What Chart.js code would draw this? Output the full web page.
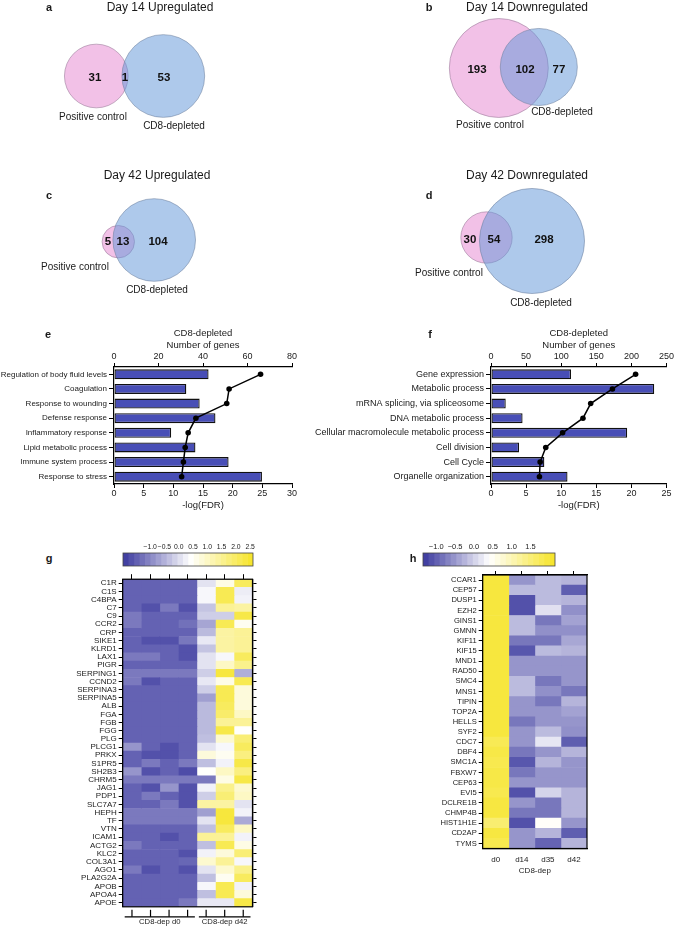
<!DOCTYPE html>
<html><head><meta charset="utf-8">
<script src="https://cdn.jsdelivr.net/npm/chart.js@4.4.1/dist/chart.umd.min.js"></script>
<style>
html,body{margin:0;padding:0;background:#fff}
body{width:675px;height:926px;position:relative;overflow:hidden;font-family:'Liberation Sans',Arial,Helvetica,sans-serif;color:#1a1a1a}
canvas{position:absolute}
.t{position:absolute;white-space:nowrap;transform:translate(-50%,-50%);line-height:1}
</style></head><body>
<canvas id="venn" width="675" height="315" style="left:0px;top:0px"></canvas>
<canvas id="chartE" width="305" height="186" style="left:0px;top:326px"></canvas>
<canvas id="chartF" width="375" height="186" style="left:300px;top:326px"></canvas>
<canvas id="cbG" width="170" height="30" style="left:100px;top:538px"></canvas>
<canvas id="heatG" width="270" height="356" style="left:0px;top:570px"></canvas>
<canvas id="cbH" width="175" height="30" style="left:400px;top:538px"></canvas>
<canvas id="heatH" width="230" height="314" style="left:380px;top:566px"></canvas>
<script>
// ---------------- DATA ----------------
const vennTitles = ['Day 14 Upregulated','Day 14 Downregulated','Day 42 Upregulated','Day 42 Downregulated'];
const vennLetters = ['a','b','c','d'];
const vennSetNames = ['Positive control','CD8-depleted'];
const vennPositiveOnly = [31, 193, 5, 30];
const vennShared = [1, 102, 13, 54];
const vennCD8Only = [53, 77, 104, 298];

const eTerms = ['Regulation of body fluid levels','Coagulation','Response to wounding','Defense response','Inflammatory response','Lipid metabolic process','Immune system process','Response to stress'];
const eGenes = [42.5, 32.5, 38.5, 45.6, 25.7, 36.6, 51.5, 66.5];
const eLogFDR = [24.7, 19.4, 19.0, 13.8, 12.5, 12.0, 11.7, 11.4];

const fTerms = ['Gene expression','Metabolic process','mRNA splicing, via spliceosome','DNA metabolic process','Cellular macromolecule metabolic process','Cell division','Cell Cycle','Organelle organization'];
const fGenes = [114, 232.5, 21, 45, 194, 40, 76, 109];
const fLogFDR = [20.6, 17.3, 14.2, 13.1, 10.2, 7.8, 7.0, 6.9];

const gGenes = ['C1R','C1S','C4BPA','C7','C9','CCR2','CRP','SIKE1','KLRD1','LAX1','PIGR','SERPING1','CCND2','SERPINA3','SERPINA5','ALB','FGA','FGB','FGG','PLG','PLCG1','PRKX','S1PR5','SH2B3','CHRM5','JAG1','PDP1','SLC7A7','HEPH','TF','VTN','ICAM1','ACTG2','KLC2','COL3A1','AGO1','PLA2G2A','APOB','APOA4','APOE'];
const gGroups = ['CD8-dep d0','CD8-dep d42'];
const gGroupSizes = [4, 3];
// rows: 4 x d0 replicates, 3 x d42 replicates
const gValues = [
 [-1.45,-1.45,-1.45,-1.45, 0.07,0.66,2.03],
 [-1.45,-1.45,-1.45,-1.45, 0.31,2.14,0.19],
 [-1.45,-1.45,-1.45,-1.45, 0.31,2.14,0.25],
 [-1.45,-1.65,-1.18,-1.65,-0.30,1.46,1.34],
 [-1.18,-1.45,-1.45,-1.45,-0.18,-0.18,2.26],
 [-1.18,-1.45,-1.45,-1.28,-0.66,2.14,0.54],
 [-1.45,-1.45,-1.45,-1.45,-0.42,1.34,1.46],
 [-1.45,-1.65,-1.65,-1.21, 0.13,1.34,1.46],
 [-1.45,-1.45,-1.45,-1.65,-0.30,1.34,1.46],
 [-1.18,-1.18,-1.45,-1.65, 0.07,0.31,2.03],
 [-1.45,-1.45,-1.45,-1.45, 0.07,1.00,1.57],
 [-1.18,-1.18,-1.18,-1.18,-0.18,2.37,-0.54],
 [-1.18,-1.65,-1.45,-1.45, 0.13,0.66,2.14],
 [-1.45,-1.45,-1.45,-1.45,-0.18,2.14,0.77],
 [-1.45,-1.45,-1.45,-1.45,-0.73,2.14,0.77],
 [-1.45,-1.45,-1.45,-1.45,-0.42,2.03,0.77],
 [-1.45,-1.45,-1.45,-1.45,-0.42,1.91,1.00],
 [-1.45,-1.45,-1.45,-1.45,-0.42,1.46,1.46],
 [-1.45,-1.45,-1.45,-1.45,-0.42,2.26,0.43],
 [-1.45,-1.45,-1.45,-1.45,-0.36,0.89,1.80],
 [-0.85,-1.45,-1.65,-1.45, 0.07,0.31,2.03],
 [-1.45,-1.65,-1.65,-1.45, 0.77,0.54,1.69],
 [-1.45,-1.18,-1.45,-1.18,-0.36,0.25,2.26],
 [-0.85,-1.65,-1.45,-1.71, 0.43,1.00,1.69],
 [-1.18,-1.18,-1.18,-1.18,-1.18,0.66,2.26],
 [-1.45,-1.65,-0.85,-1.65, 0.25,1.57,0.89],
 [-1.45,-1.18,-1.45,-1.65,-0.18,1.80,1.00],
 [-1.45,-1.45,-1.18,-1.65, 1.34,1.34,0.07],
 [-1.18,-1.18,-1.18,-1.18,-0.73,2.37,0.25],
 [-1.18,-1.18,-1.18,-1.18, 0.07,2.37,-0.60],
 [-1.45,-1.45,-1.45,-1.45,-0.36,2.03,1.00],
 [-1.45,-1.45,-1.65,-1.45, 1.46,1.46,0.25],
 [-1.18,-1.45,-1.45,-1.45,-0.36,2.14,0.66],
 [-1.45,-1.45,-1.45,-1.65, 0.25,0.77,1.80],
 [-1.45,-1.45,-1.45,-1.40, 0.89,1.46,0.31],
 [-1.18,-1.65,-1.45,-1.65, 0.07,0.89,1.57],
 [-1.45,-1.45,-1.45,-1.45,-0.36,0.54,2.03],
 [-1.45,-1.45,-1.45,-1.45, 0.31,2.14,0.25],
 [-1.45,-1.45,-1.45,-1.45,-0.36,2.14,0.77],
 [-1.45,-1.45,-1.45,-1.18, 0.13,0.13,2.26]
];
const gColorbarTicks = [-1.0,-0.5,0.0,0.5,1.0,1.5,2.0,2.5];
const gRange = [-1.95, 0.4, 2.6];

const hGenes = ['CCAR1','CEP57','DUSP1','EZH2','GINS1','GMNN','KIF11','KIF15','MND1','RAD50','SMC4','MNS1','TIPIN','TOP2A','HELLS','SYF2','CDC7','DBF4','SMC1A','FBXW7','CEP63','EVI5','DCLRE1B','CHMP4B','HIST1H1E','CD2AP','TYMS'];
const hColumns = ['d0','d14','d35','d42'];
const hD0  = [1.96,1.96,1.96,1.96,1.96,1.96,1.96,1.96,1.96,1.96,1.96,1.96,1.96,1.96,1.96,1.96,1.77,1.88,1.82,1.88,1.88,1.82,1.93,1.93,1.55,1.93,1.82];
const hD14 = [-0.53,-0.20,-1.13,-1.13,-0.20,-0.20,-0.80,-1.08,-0.53,-0.53,-0.20,-0.20,-0.53,-0.53,-0.80,-0.53,-0.53,-0.80,-1.08,-0.80,-0.53,-1.13,-0.53,-0.80,-1.13,-0.53,-0.53];
const hD35 = [-0.20,-0.20,-0.20,0.13,-0.80,-0.58,-0.80,-0.20,-0.53,-0.53,-0.80,-0.58,-0.80,-0.53,-0.53,-0.20,0.18,-0.53,-0.26,-0.53,-0.53,0.02,-0.80,-0.80,0.45,-0.26,-0.97];
const hD42 = [-0.26,-1.02,-0.26,-0.58,-0.42,-0.58,-0.37,-0.26,-0.53,-0.53,-0.53,-0.80,-0.26,-0.42,-0.53,-0.58,-1.02,-0.26,-0.53,-0.53,-0.53,-0.26,-0.26,-0.26,-0.53,-1.02,-0.26];
const hColorbarTicks = [-1.0,-0.5,0.0,0.5,1.0,1.5];
const hRange = [-1.35, 0.4, 2.15];
const hAxisTitle = 'CD8-dep';

// ---------------- LAYOUT ----------------
const vennLayout = {
  k: [5.63, 2.88, 3.82, 2.8],
  pinkC: [[96.3,76],[498.8,68],[118.3,241.7],[486.5,237.5]],
  blueC: [[163.3,76],[538.8,67],[154.2,240],[532,241]],
  numPos: [[[95,78],[125,78],[164,78]],[[477,70],[525,70],[559,70]],[[108,242],[123,242],[158,242]],[[470,240],[494,240],[544,240]]],
  namePos: [[[93,117],[174,126]],[[490,125],[562,112]],[[75,267],[157,290]],[[449,273],[541,303]]],
  titlePos: [[160,7],[527,7],[157,175],[527,175]],
  letterPos: [[49,7],[429,7],[49,195],[429,195]]
};
const otherLetters = [['e',48,334],['f',430,334],['g',49,558],['h',413,558]];

const FONT = "'Liberation Sans', Arial, Helvetica, sans-serif";
Chart.defaults.font.family = FONT;
Chart.defaults.color = '#1a1a1a';
Chart.defaults.animation = false;

function addText(txt, x, y, size, bold){
  const d = document.createElement('div');
  d.className = 't'; d.textContent = txt;
  d.style.left = x+'px'; d.style.top = y+'px';
  d.style.fontSize = size+'px';
  if (bold) d.style.fontWeight = 'bold';
  document.body.appendChild(d);
}
vennTitles.forEach((t,i)=>{
  addText(t, vennLayout.titlePos[i][0], vennLayout.titlePos[i][1], 12);
  addText(vennLetters[i], vennLayout.letterPos[i][0], vennLayout.letterPos[i][1], 11, true);
  vennSetNames.forEach((n,j)=>addText(n, vennLayout.namePos[i][j][0], vennLayout.namePos[i][j][1], 10));
});
otherLetters.forEach(l=>addText(l[0], l[1], l[2], 11, true));

// colour map: blue -> white -> yellow
function cmap(v, range){
  const L=[58,56,158], W=[255,255,255], Y=[246,228,38];
  let a,b,t;
  if (v <= range[1]) { t=(v-range[0])/(range[1]-range[0]); a=L; b=W; }
  else { t=(v-range[1])/(range[2]-range[1]); a=W; b=Y; }
  t=Math.max(0,Math.min(1,t));
  return 'rgb('+a.map((c,i)=>Math.round(c+(b[i]-c)*t)).join(',')+')';
}

// ---------------- VENN ----------------
const vennPlugin = {
  id:'vennCounts',
  afterDatasetsDraw(chart){
    const {ctx} = chart; const x = chart.scales.x, y = chart.scales.y;
    ctx.save();
    ctx.font = 'bold 11.5px '+FONT; ctx.fillStyle='#111'; ctx.textAlign='center'; ctx.textBaseline='middle';
    for (let p=0;p<4;p++){
      const vals=[vennPositiveOnly[p], vennShared[p], vennCD8Only[p]];
      vals.forEach((v,i)=>{
        const pos = vennLayout.numPos[p][i];
        ctx.fillText(String(v), x.getPixelForValue(pos[0]), y.getPixelForValue(pos[1]));
      });
    }
    ctx.restore();
  }
};
new Chart(document.getElementById('venn'), {
  type:'bubble',
  data:{datasets:[
    {label:'CD8-depleted', data: vennCD8Only.map((v,p)=>({x:vennLayout.blueC[p][0], y:vennLayout.blueC[p][1], r:vennLayout.k[p]*Math.sqrt(v+vennShared[p])})),
     backgroundColor:'rgba(100,152,216,0.52)', borderColor:'rgba(110,130,160,0.8)', borderWidth:0.7, clip:false},
    {label:'Positive control', data: vennPositiveOnly.map((v,p)=>({x:vennLayout.pinkC[p][0], y:vennLayout.pinkC[p][1], r:vennLayout.k[p]*Math.sqrt(v+vennShared[p])})),
     backgroundColor:'rgba(226,118,202,0.45)', borderColor:'rgba(150,120,150,0.8)', borderWidth:0.7, clip:false}
  ]},
  options:{responsive:false, animation:false, layout:{padding:0, autoPadding:false},
    plugins:{legend:{display:false}, tooltip:{enabled:false}},
    scales:{x:{type:'linear',min:0,max:675,display:false}, y:{type:'linear',min:0,max:315,reverse:true,display:false}}},
  plugins:[vennPlugin]
});

// ---------------- GO bar charts ----------------
function goChart(id, terms, genes, fdr, gMax, gStep, fMax, fStep, leftW, rightPad, labelSize){
  const axisCommon = {grid:{drawOnChartArea:false, tickLength:4, color:'#000', lineWidth:1}, border:{color:'#000', width:1.2}};
  new Chart(document.getElementById(id), {
    type:'bar',
    data:{labels:terms, datasets:[
      {type:'line', data:fdr, xAxisID:'xb', yAxisID:'y', borderColor:'#000', backgroundColor:'#000', borderWidth:1.5, pointRadius:2.8, pointBackgroundColor:'#000', pointBorderWidth:0, order:0},
      {type:'bar', data:genes, xAxisID:'xt', yAxisID:'y', backgroundColor:'rgb(72,78,182)', borderColor:'#111', borderWidth:1.3, borderSkipped:false, barPercentage:0.68, categoryPercentage:1, order:1}
    ]},
    options:{indexAxis:'y', responsive:false, animation:false,
      layout:{padding:{left:0,right:rightPad,top:0,bottom:0}},
      plugins:{legend:{display:false}, tooltip:{enabled:false}},
      scales:{
        xt:Object.assign({type:'linear', position:'top', min:0, max:gMax,
          ticks:{stepSize:gStep, font:{size:9}, color:'#1a1a1a', padding:1},
          title:{display:true, text:['CD8-depleted','Number of genes'], font:{size:9.5}, color:'#1a1a1a', padding:{top:2,bottom:0}},
          afterFit:s=>{s.height=41;}}, axisCommon),
        xb:Object.assign({type:'linear', position:'bottom', min:0, max:fMax,
          ticks:{stepSize:fStep, font:{size:9}, color:'#1a1a1a', padding:0},
          title:{display:true, text:'-log(FDR)', font:{size:9.5}, color:'#1a1a1a', padding:{top:0,bottom:1}},
          afterFit:s=>{s.height=28;}}, axisCommon),
        y:{type:'category', position:'left', offset:true,
          grid:{offset:false, drawOnChartArea:false, tickLength:5, color:'#000'}, border:{color:'#000',width:1.2},
          ticks:{font:{size:labelSize}, color:'#1a1a1a', padding:2, autoSkip:false},
          afterFit:s=>{s.width=leftW;}}
      }}
  });
}
goChart('chartE', eTerms, eGenes, eLogFDR, 80, 20, 30, 5, 114, 13, 8);
goChart('chartF', fTerms, fGenes, fLogFDR, 250, 50, 25, 5, 191, 8, 9);

// ---------------- colour bars ----------------
const framePlugin = {
  id:'frame',
  afterDraw(chart, args, opts){
    if (!opts || !opts.color) return;
    const a = chart.chartArea, ctx = chart.ctx;
    ctx.save(); ctx.strokeStyle = opts.color; ctx.lineWidth = opts.width;
    ctx.strokeRect(a.left, a.top, a.right-a.left, a.bottom-a.top);
    ctx.restore();
  }
};
Chart.register(framePlugin);

function colorBar(id, range, tickVals, padL, padR, fontSize){
  const N = 24, step = (range[2]-range[0])/N, ds = [];
  for (let i=0;i<N;i++){
    const lo = range[0]+i*step, hi = lo+step;
    ds.push({data:[[lo,hi]], backgroundColor:cmap((lo+hi)/2, range), borderWidth:0, grouped:false, barPercentage:1, categoryPercentage:1});
  }
  new Chart(document.getElementById(id), {
    type:'bar',
    data:{labels:['scale'], datasets:ds},
    options:{indexAxis:'y', responsive:false, animation:false,
      layout:{padding:{left:padL,right:padR,top:0,bottom:2}},
      plugins:{legend:{display:false}, tooltip:{enabled:false}, frame:{color:'#444', width:0.8}},
      scales:{
        x:{type:'linear', position:'top', min:range[0], max:range[2],
          afterBuildTicks:s=>{s.ticks = tickVals.map(v=>({value:v}));},
          ticks:{font:{size:fontSize}, color:'#1a1a1a', padding:2, autoSkip:false, maxRotation:0, callback:v=>Number(v).toFixed(1).replace('-','\u2212')},
          grid:{display:false, drawTicks:false}, border:{display:false},
          afterFit:s=>{s.height=15;}},
        y:{display:false}
      }}
  });
}
colorBar('cbG', gRange, gColorbarTicks, 23, 17, 6.8);
colorBar('cbH', hRange, hColorbarTicks, 23, 20, 7.5);

// ---------------- heatmaps ----------------
const bracketPlugin = {
  id:'groupBrackets',
  afterDraw(chart, args, opts){
    if (!opts || !opts.groups) return;
    const ctx = chart.ctx, x = chart.scales.x, base = chart.chartArea.bottom;
    ctx.save(); ctx.strokeStyle='#000'; ctx.lineWidth=1.2; ctx.fillStyle='#1a1a1a';
    ctx.font = '7.7px '+FONT; ctx.textAlign='center'; ctx.textBaseline='middle';
    let start = 0;
    opts.groups.forEach((g,i)=>{
      const n = opts.sizes[i];
      const x0 = x.getPixelForValue(start)+2, x1 = x.getPixelForValue(start+n)-2;
      const yy = base + 10;
      ctx.beginPath(); ctx.moveTo(x0,yy); ctx.lineTo(x1,yy); ctx.stroke();
      for (let c=0;c<n;c++){
        const cx = x.getPixelForValue(start+c+0.5);
        ctx.beginPath(); ctx.moveTo(cx,yy); ctx.lineTo(cx,yy-7); ctx.stroke();
      }
      ctx.fillText(g, (x0+x1)/2, yy+5.5);
      start += n;
    });
    ctx.restore();
  }
};
Chart.register(bracketPlugin);

function heatmap(id, rows, columns, range, cfg){
  const ncol = columns.length;
  const centers = columns.map((c,j)=>j+0.5);
  const ds = columns.map(col=>({data: rows.map(()=>1), backgroundColor: col.map(v=>cmap(v, range)), borderWidth:0, barPercentage:1, categoryPercentage:1, xAxisID:'x', yAxisID:'y'}));
  const scales = {
    x:{type:'linear', position:'top', min:0, max:ncol, stacked:true,
      afterBuildTicks:s=>{s.ticks = centers.map(v=>({value:v}));},
      ticks:{display:false}, grid:{drawOnChartArea:false, tickLength:cfg.topTick, color:'#000', lineWidth:1},
      border:{color:'#000', width:1.3}, afterFit:s=>{s.height=cfg.topH;}},
    y:{type:'category', position:'left', stacked:true, offset:true,
      grid:{offset:false, drawOnChartArea:false, tickLength:4, color:'#000', lineWidth:1}, border:{color:'#000', width:1.3},
      ticks:{font:{size:cfg.labelSize}, color:'#1a1a1a', padding:2, autoSkip:false},
      afterFit:s=>{s.width=cfg.leftW;}}
  };
  if (cfg.rightTicks){
    scales.yr = {type:'category', position:'right', labels:rows, offset:true,
      grid:{offset:false, drawOnChartArea:false, tickLength:4, color:'#000', lineWidth:1}, border:{color:'#000', width:1.3},
      ticks:{display:false}, afterFit:s=>{s.width=cfg.rightW;}};
  }
  if (cfg.bottomLabels){
    scales.xb = {type:'linear', position:'bottom', min:0, max:ncol,
      afterBuildTicks:s=>{s.ticks = centers.map(v=>({value:v}));},
      ticks:{font:{size:8}, color:'#1a1a1a', padding:6, callback:(v,i)=>cfg.bottomLabels[i]},
      grid:{display:false, drawTicks:false}, border:{color:'#000', width:1.3},
      title:{display:true, text:cfg.bottomTitle, font:{size:8}, color:'#1a1a1a', padding:{top:0,bottom:4}},
      afterFit:s=>{s.height=cfg.bottomH;}};
  }
  new Chart(document.getElementById(id), {
    type:'bar',
    data:{labels:rows, datasets:ds},
    options:{indexAxis:'y', responsive:false, animation:false,
      layout:{padding:cfg.padding},
      plugins:{legend:{display:false}, tooltip:{enabled:false}, frame:{color:'#000', width:1.2},
        groupBrackets: cfg.groups ? {groups:cfg.groups, sizes:cfg.sizes} : {}},
      scales}
  });
}
heatmap('heatG', gGenes, [0,1,2,3,4,5,6].map(j=>gValues.map(r=>r[j])), gRange,
  {topH:9.2, topTick:5, leftW:122.7, rightTicks:true, rightW:17.5, labelSize:8,
   padding:{left:0,right:0,top:0,bottom:19.2}, groups:gGroups, sizes:gGroupSizes});
heatmap('heatH', hGenes, [hD0,hD14,hD35,hD42], hRange,
  {topH:9, topTick:4, leftW:102.7, rightTicks:false, labelSize:7.6,
   padding:{left:0,right:23,top:0,bottom:0}, bottomLabels:hColumns, bottomTitle:hAxisTitle, bottomH:31.5});
</script>
</body></html>
